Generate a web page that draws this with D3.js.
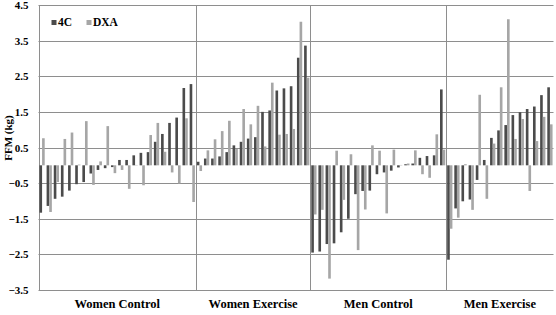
<!DOCTYPE html>
<html>
<head>
<meta charset="utf-8">
<script src="https://cdn.jsdelivr.net/npm/d3@7"></script>
<style>
    body { margin: 0; background: #fff; }
    svg { display: block; }
    text { font-family: "Liberation Serif", "Times New Roman", serif; font-weight: bold; fill: #000; }
</style>
</head>
<body>
<svg width="556" height="315"></svg>
<script>
const groups = ["Women Control", "Women Exercise", "Men Control", "Men Exercise"];
const seriesNames = ["4C", "DXA"];
const yTicks = [-3.5, -2.5, -1.5, -0.5, 0.5, 1.5, 2.5, 3.5, 4.5];

// change in FFM per subject
const womenControl4C = [-1.33, -1.14, -0.94, -0.88, -0.71, -0.53, -0.47, -0.23, -0.13, -0.08, -0.05, 0.15, 0.15, 0.28, 0.35, 0.37, 0.66, 0.88, 1.19, 1.34, 2.17, 2.28];
const womenControlDXA = [0.76, -1.31, -0.47, 0.74, 0.92, 0.02, 1.24, -0.55, 0.11, 1.1, -0.22, -0.13, -0.66, 0.01, -0.56, 0.85, 1.19, 0.38, -0.2, -0.51, 1.32, -1.03];
const womenExercise4C = [0.1, 0.19, 0.19, 0.25, 0.37, 0.56, 0.66, 0.75, 0.79, 1.5, 1.54, 2.1, 2.16, 2.22, 3.02, 3.36];
const womenExerciseDXA = [-0.16, 0.42, 0.73, 0.96, 1.25, 0.46, 1.58, 1.15, 1.67, 0.53, 2.32, 0.86, 0.88, 1.02, 4.03, 2.46];
const menControl4C = [-2.45, -2.42, -2.21, -2.19, -1.88, -1.5, -0.81, -0.72, -0.71, -0.25, -0.2, -0.15, -0.06, 0.03, 0.05, 0.21, 0.26, 0.28, 2.13];
const menControlDXA = [-1.38, -1.25, -3.18, 0.41, -0.97, 0.31, -2.38, -1.24, 0.56, 0.41, -1.35, 0.44, 0.01, 0.05, 0.42, -0.25, -0.35, 0.87, 0.44];
const menExercise4C = [-2.65, -1.21, -1.01, -0.96, -0.41, 0.15, 0.77, 0.98, 1.13, 1.41, 1.49, 1.58, 1.65, 1.97, 2.19];
const menExerciseDXA = [-1.78, -1.47, 0.03, -1.25, 1.98, -0.94, 0.61, 2.19, 4.1, 0.74, 1.3, -0.72, 0.68, 1.36, 1.15];

const values4C = [womenControl4C, womenExercise4C, menControl4C, menExercise4C];
const valuesDXA = [womenControlDXA, womenExerciseDXA, menControlDXA, menExerciseDXA];

let subjects = [];
groups.forEach((g, gi) => {
    values4C[gi].forEach((v, i) => {
        subjects.push({ id: g + "-" + i, group: g, values: [v, valuesDXA[gi][i]] });
    });
});

const svg = d3.select("svg");

const attr_area = { left: 38.5, right: 553.5, top: 5, bottom: 290 };
const colors = ["#4b4b4b", "#a6a6a6"];
const gridColor = "#8e8e8e";

const scaleX = d3.scaleBand()
    .domain(subjects.map(d => d.id))
    .range([attr_area.left, attr_area.right])
    .padding(0);

const innerX = d3.scaleBand()
    .domain(seriesNames)
    .range([0, scaleX.bandwidth()])
    .paddingInner(0)
    .paddingOuter(0.36);

const scaleY = d3.scaleLinear()
    .domain([-3.5, 4.5])
    .range([attr_area.bottom, attr_area.top]);

// horizontal gridlines
svg.append("g")
    .selectAll("line")
    .data(yTicks)
    .enter()
    .append("line")
    .attr("x1", attr_area.left)
    .attr("x2", attr_area.right)
    .attr("y1", d => Math.round(scaleY(d)) + 0.5)
    .attr("y2", d => Math.round(scaleY(d)) + 0.5)
    .attr("stroke", gridColor)
    .attr("stroke-width", 1);

// y tick labels
const axisY = d3.axisLeft(scaleY).tickValues(yTicks).tickFormat(d3.format(".1f")).tickSize(0).tickPadding(10);
const gY = svg.append("g")
    .attr("transform", `translate(${attr_area.left}, 0)`)
    .call(axisY);
gY.select(".domain").remove();
gY.selectAll("text")
    .style("font-family", "'Liberation Serif', serif")
    .style("font-weight", "bold")
    .style("font-size", "11px");

// group separators + left axis
const groupStarts = groups.map(g => subjects.find(d => d.group === g).id);
svg.append("g")
    .selectAll("line")
    .data(groupStarts)
    .enter()
    .append("line")
    .attr("x1", d => Math.round(scaleX(d)) + 0.5)
    .attr("x2", d => Math.round(scaleX(d)) + 0.5)
    .attr("y1", attr_area.top)
    .attr("y2", attr_area.bottom)
    .attr("stroke", gridColor)
    .attr("stroke-width", 1);

// bars
seriesNames.forEach((name, index) => {
    svg.append("g")
        .selectAll("rect")
        .data(subjects)
        .enter()
        .append("rect")
        .attr("x", d => scaleX(d.id) + innerX(name))
        .attr("y", d => scaleY(Math.max(0, d.values[index])))
        .attr("width", innerX.bandwidth())
        .attr("height", d => Math.abs(scaleY(d.values[index]) - scaleY(0)))
        .style("fill", colors[index]);
});

// group labels
svg.append("g")
    .selectAll("text")
    .data(groups)
    .enter()
    .append("text")
    .attr("x", g => {
        const ids = subjects.filter(d => d.group === g);
        return (scaleX(ids[0].id) + scaleX(ids[ids.length - 1].id) + scaleX.bandwidth()) / 2;
    })
    .attr("y", 308)
    .attr("text-anchor", "middle")
    .style("font-size", "12.5px")
    .text(d => d);

// y axis title
svg.append("text")
    .attr("transform", "translate(12, 138) rotate(-90)")
    .attr("text-anchor", "middle")
    .style("font-size", "11px")
    .text("FFM (kg)");

// legend
const legendX = [51.5, 86.5];
const legend = svg.append("g");
seriesNames.forEach((name, i) => {
    legend.append("rect")
        .attr("x", legendX[i])
        .attr("y", 20)
        .attr("width", 5)
        .attr("height", 5)
        .style("fill", colors[i]);
    legend.append("text")
        .attr("x", legendX[i] + 6.5)
        .attr("y", 25.5)
        .style("font-size", "11.5px")
        .text(name);
});
</script>
</body>
</html>
